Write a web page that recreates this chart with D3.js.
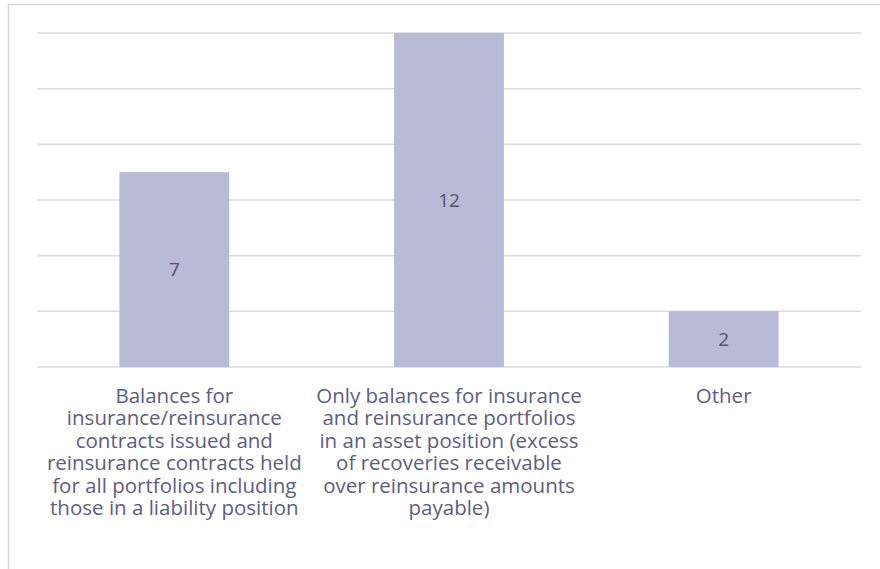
<html>
<head>
<script src="https://d3js.org/d3.v7.min.js"></script>
<style>
  body { margin: 0; background: #fff; }
  text { font-family: "Open Sans", Lato, sans-serif; }
</style>
</head>
<body>
<svg width="880" height="569"></svg>
<script>
// data
var categories = ['balances', 'assetOnly', 'other'];
var values = [7, 12, 2];
var tickLabels = [
    ['Balances for', 'insurance/reinsurance', 'contracts issued and', 'reinsurance contracts held', 'for all portfolios including', 'those in a liability position'],
    ['Only balances for insurance', 'and reinsurance portfolios', 'in an asset position (excess', 'of recoveries receivable', 'over reinsurance amounts', 'payable)'],
    ['Other']
];
var gridTicks = [0, 2, 4, 6, 8, 10, 12];

var svg = d3.select('svg');

// chart frame (cropped on right/bottom)
svg.append('rect')
    .attr('x', 8.5).attr('y', 4.5)
    .attr('width', 900).attr('height', 600)
    .style('fill', 'none')
    .style('stroke', '#d6d6dc')
    .style('stroke-width', 1.5);

var x = d3.scaleBand()
    .domain(categories)
    .range([37, 861])
    .paddingInner(0.6)
    .paddingOuter(0.3);

var y = d3.scaleLinear()
    .domain([0, 12])
    .range([367, 33]);

// gridlines
svg.append('g')
    .selectAll('line')
    .data(gridTicks)
    .enter()
    .append('line')
    .attr('x1', 37).attr('x2', 861)
    .attr('y1', d => y(d)).attr('y2', d => y(d))
    .style('stroke', '#dcdce0')
    .style('stroke-width', 1.5);

// bars
var bars = svg.append('g')
    .selectAll('g')
    .data(values)
    .enter()
    .append('g');

bars.append('rect')
    .attr('x', (d, i) => x(categories[i]))
    .attr('y', d => y(d))
    .attr('width', x.bandwidth())
    .attr('height', d => y(0) - y(d))
    .style('fill', '#b8bad6');

bars.append('text')
    .attr('x', (d, i) => x(categories[i]) + x.bandwidth() / 2)
    .attr('y', d => (y(d) + y(0)) / 2)
    .attr('dy', '0.35em')
    .attr('text-anchor', 'middle')
    .style('font-size', '19px')
    .style('fill', '#55556a')
    .text(d => d);

// category labels
var labels = svg.append('g')
    .selectAll('text')
    .data(tickLabels)
    .enter()
    .append('text')
    .attr('text-anchor', 'middle')
    .style('font-size', '20.5px')
    .style('fill', '#5d5e80');

labels.selectAll('tspan')
    .data((d, i) => d.map(s => ({ s: s, i: i })))
    .enter()
    .append('tspan')
    .attr('x', d => x(categories[d.i]) + x.bandwidth() / 2)
    .attr('y', (d, j) => 403 + j * 22.4)
    .text(d => d.s);
</script>
</body>
</html>
